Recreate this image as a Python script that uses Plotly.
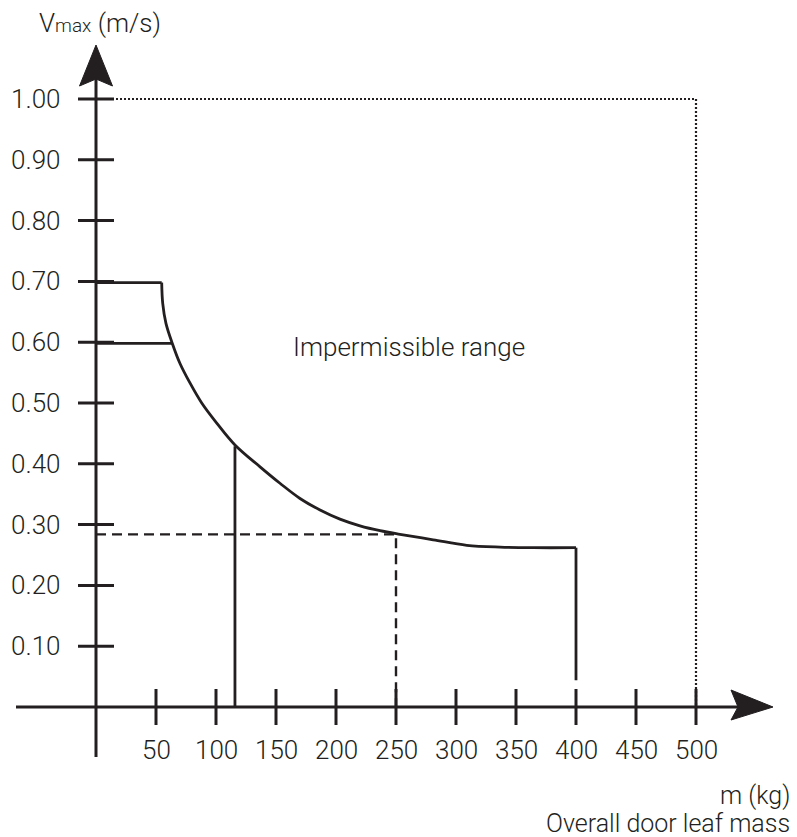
import plotly.graph_objects as go

# ---------------- data ----------------
curve_mass = [54.75, 55.6, 58.3, 63.6, 70.0, 78.3, 88.1, 100.6, 115.8, 136.7, 153.3,
              170.0, 186.7, 203.3, 220.0, 236.7, 253.3, 281.0, 309.0, 336.7, 364.4, 400.0]
curve_v = [0.698, 0.664, 0.631, 0.598, 0.565, 0.533, 0.500, 0.467, 0.431, 0.395, 0.368,
           0.343, 0.324, 0.309, 0.298, 0.290, 0.284, 0.275, 0.266, 0.263, 0.262, 0.262]

limit_mass = [54.75, 63.6]         # ends of the 0.70 / 0.60 horizontal limits
limit_v = [0.698, 0.598]

example_mass = 250                 # dashed reading example
example_v = 0.284

door_mass = 115.8                  # solid vertical line
door_v = 0.429

max_mass = 400                     # right end of curve
max_v_top = 0.262
max_v_bottom = 0.044

range_mass = 500                   # dotted frame
range_v = 1.00

x_ticks = [50, 100, 150, 200, 250, 300, 350, 400, 450, 500]
x_tick_labels = [str(t) for t in x_ticks]
y_ticks = [0.10, 0.20, 0.30, 0.40, 0.50, 0.60, 0.70, 0.80, 0.90, 1.00]
y_tick_labels = ["%.2f" % t for t in y_ticks]

# ---------------- geometry helpers (pixel -> data) ----------------
W, H = 797, 837
PX0, PXK = 96, 1.2       # pixel x of 0 kg, pixels per kg
PY0, PYV = 707, 608      # pixel y of 0 m/s, pixels per m/s


def kx(px):
    return (px - PX0) / PXK


def vy(py):
    return (PY0 - py) / PYV


INK = "#231f20"
FONT = dict(family="Roboto, 'Liberation Sans', Arial, sans-serif", size=26, color=INK, weight=300)
FONT_SM = dict(FONT, size=25)
LW = 2.8

fig = go.Figure()


def seg(xs, ys, width=LW, dash="solid", shape="linear"):
    fig.add_trace(go.Scatter(x=xs, y=ys, mode="lines", hoverinfo="skip",
                             line=dict(color=INK, width=width, dash=dash, shape=shape,
                                       smoothing=1.0),
                             showlegend=False))


# axes
seg([kx(16), kx(760)], [0, 0], width=3)
seg([0, 0], [vy(757), vy(60)], width=3)
# tick marks
tx = 18 / PXK
ty = 18 / PYV
for t in x_ticks:
    seg([t, t], [-ty, ty], width=3)
for t in y_ticks:
    seg([-tx, tx], [t, t], width=3)

# arrowheads
fig.add_trace(go.Scatter(
    x=[0, kx(112.5), 0, kx(79.5), 0],
    y=[vy(45), vy(86), vy(79), vy(86), vy(45)],
    mode="lines", fill="toself", fillcolor=INK, line=dict(color=INK, width=1),
    hoverinfo="skip", showlegend=False))
fig.add_trace(go.Scatter(
    x=[kx(773), kx(731), kx(738), kx(731), kx(773)],
    y=[0, vy(690), 0, vy(720), 0],
    mode="lines", fill="toself", fillcolor=INK, line=dict(color=INK, width=1),
    hoverinfo="skip", showlegend=False))

# dotted frame
seg([0, range_mass, range_mass], [range_v, range_v, 0], width=2.2, dash="2px,2px")

# limit lines
for m, v in zip(limit_mass, limit_v):
    seg([0, m], [v, v])

# curve
seg(curve_mass, curve_v, shape="spline")

# vertical lines
seg([door_mass, door_mass], [0, door_v])
seg([max_mass, max_mass], [max_v_top, max_v_bottom])

# dashed example
seg([0, example_mass, example_mass], [example_v, example_v, 0], width=2.4, dash="10px,6px")

# ---------------- text ----------------
ann = []
for t, lab in zip(y_ticks, y_tick_labels):
    ann.append(dict(x=kx(63), y=t, text=lab, xanchor="right", yanchor="middle",
                    showarrow=False, font=FONT))
for t, lab in zip(x_ticks, x_tick_labels):
    ann.append(dict(x=t, y=vy(750), text=lab, xanchor="center", yanchor="middle",
                    showarrow=False, font=FONT))
ann.append(dict(x=kx(100), y=vy(23), text="V<span style='font-size:19px'>max</span> (m/s)",
                xanchor="center", yanchor="middle", showarrow=False, font=FONT))
ann.append(dict(x=kx(409), y=vy(347), text="Impermissible range",
                xanchor="center", yanchor="middle", showarrow=False, font=FONT))
ann.append(dict(x=kx(792), y=vy(795), text="m (kg)",
                xanchor="right", yanchor="middle", showarrow=False, font=FONT_SM))
ann.append(dict(x=kx(792), y=vy(823), text="Overall door leaf mass",
                xanchor="right", yanchor="middle", showarrow=False, font=FONT_SM))

fig.update_layout(
    width=W, height=H,
    margin=dict(l=0, r=0, t=0, b=0),
    paper_bgcolor="white", plot_bgcolor="white",
    xaxis=dict(range=[kx(0), kx(W)], visible=False, fixedrange=True),
    yaxis=dict(range=[vy(H), vy(0)], visible=False, fixedrange=True),
    annotations=ann,
    showlegend=False,
)

fig.write_html("out.html", config={"displayModeBar": False},
               post_script="document.body.style.margin='0px';document.body.style.overflow='hidden';")
